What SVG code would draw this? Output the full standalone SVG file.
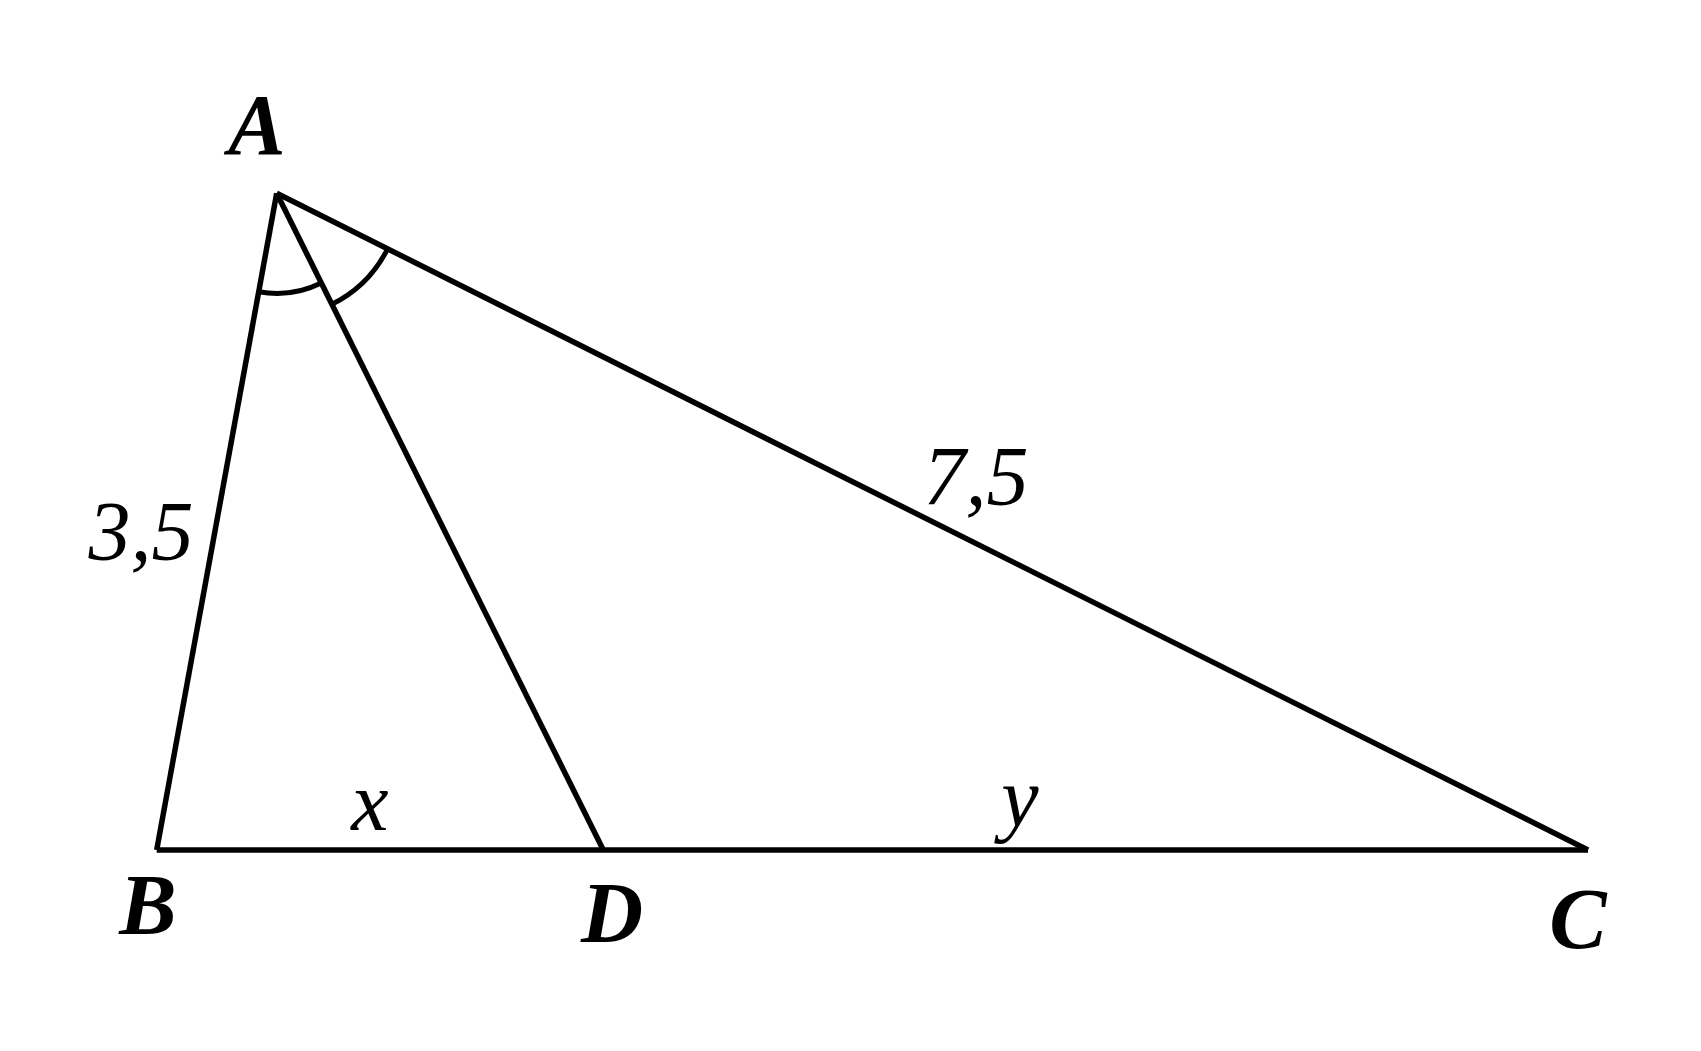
<svg xmlns="http://www.w3.org/2000/svg" width="1701" height="1051" viewBox="0 0 1701 1051">
<style>
.ln{stroke:#000;stroke-width:5.5;fill:none;stroke-linecap:butt;stroke-linejoin:miter}
.arc{stroke:#000;stroke-width:5;fill:none}
.pt{font-family:"Liberation Serif","Times New Roman",serif;font-weight:bold;font-style:italic;font-size:86px;text-anchor:middle;fill:#000}
.num{font-family:"Liberation Serif","Times New Roman",serif;font-style:italic;font-size:84px;text-anchor:middle;fill:#000}
</style>
<rect width="1701" height="1051" fill="#fff"/>
<g id="connectors">
<line class="ln" x1="276.7" y1="193.3" x2="156.7" y2="850"/>
<line class="ln" x1="276.7" y1="193.3" x2="1588" y2="850"/>
<line class="ln" x1="276.7" y1="193.3" x2="603.3" y2="850"/>
<line class="ln" x1="156.7" y1="850" x2="1588" y2="850"/>
<path class="arc" d="M258.7 291.7 A100 100 0 0 0 321.2 282.9"/>
<path class="arc" d="M331.9 304.3 A124 124 0 0 0 387.6 248.8"/>
</g>
<g id="A"><text class="pt" x="257" y="154">A</text></g>
<g id="B"><text class="pt" x="148" y="934">B</text></g>
<g id="D"><text class="pt" x="612" y="942">D</text></g>
<g id="C"><text class="pt" x="1578" y="948">C</text></g>
<g id="labels">
<text class="num" x="141" y="560">3,5</text>
<text class="num" x="976" y="505">7,5</text>
<text class="num" x="370" y="830">x</text>
<text class="num" x="1020" y="826">y</text>
</g>
</svg>
